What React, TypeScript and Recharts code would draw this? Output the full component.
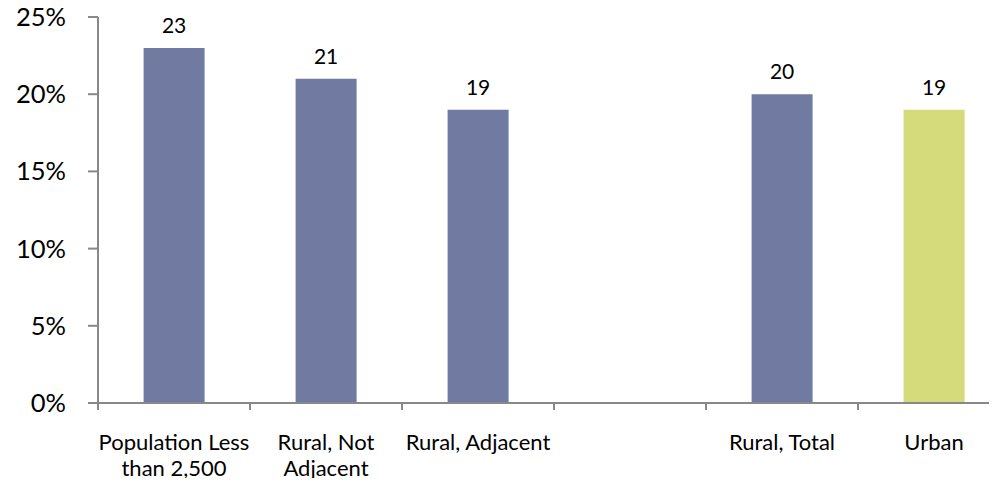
import { BarChart, Bar, XAxis, YAxis, Cell, LabelList } from 'recharts'

const categories = ['Population Less\nthan 2,500', 'Rural, Not\nAdjacent', 'Rural, Adjacent', '', 'Rural, Total', 'Urban']
const shares = [23, 21, 19, null, 20, 19]
const barColors = ['#717BA1', '#717BA1', '#717BA1', '#717BA1', '#717BA1', '#D5DB7A']
const yTicks = [0, 5, 10, 15, 20, 25]

const CHART_W = 1010
const CHART_H = 486
const Y_W = 98
const FONT = 'Lato, "Open Sans", sans-serif'

const data = categories.map((name, i) => ({ name, value: shares[i] }))
const band = (CHART_W - Y_W) / categories.length

// label at band centre, tick mark at the band's left edge
function CategoryTick(props: any) {
  const { x, y, payload } = props
  const lines = String(payload.value).split('\n')
  const axisY = y - 7
  const isLast = payload.index === categories.length - 1
  return (
    <g>
      <line x1={x - band / 2} y1={axisY} x2={x - band / 2} y2={axisY + 7} stroke="#888" strokeWidth={2} />
      {isLast && (
        <line x1={x + band / 2} y1={axisY} x2={x + band / 2} y2={axisY + 7} stroke="#888" strokeWidth={2} />
      )}
      <text x={x} y={axisY + 47} textAnchor="middle" fontSize={22} fill="#000" fontFamily={FONT}>
        {lines.map((l, i) => (
          <tspan key={i} x={x} dy={i === 0 ? 0 : 26}>{l}</tspan>
        ))}
      </text>
    </g>
  )
}

export default function App() {
  return (
    <div style={{ margin: -8, width: 997, height: CHART_H, overflow: 'hidden', background: '#fff' }}>
      <BarChart
        width={CHART_W}
        height={CHART_H}
        data={data}
        margin={{ top: 17, right: 0, left: 0, bottom: 0 }}
        barCategoryGap="30%"
      >
        <XAxis
          dataKey="name"
          height={83}
          interval={0}
          tickLine={false}
          tickSize={7}
          tickMargin={0}
          axisLine={{ stroke: '#888', strokeWidth: 2 }}
          tick={<CategoryTick />}
        />
        <YAxis
          width={Y_W}
          domain={[0, 25]}
          ticks={yTicks}
          tickFormatter={(v) => `${v}%`}
          tickSize={10}
          tickMargin={22}
          axisLine={{ stroke: '#888', strokeWidth: 2 }}
          tickLine={{ stroke: '#888', strokeWidth: 2 }}
          tick={{ fontSize: 25.5, fill: '#000', fontFamily: FONT }}
          interval={0}
        />
        <Bar dataKey="value" isAnimationActive={false}>
          {data.map((d, i) => (
            <Cell key={i} fill={barColors[i]} />
          ))}
          <LabelList dataKey="value" position="top" offset={15} fill="#000" fontSize={21} fontFamily={FONT} />
        </Bar>
      </BarChart>
    </div>
  )
}
